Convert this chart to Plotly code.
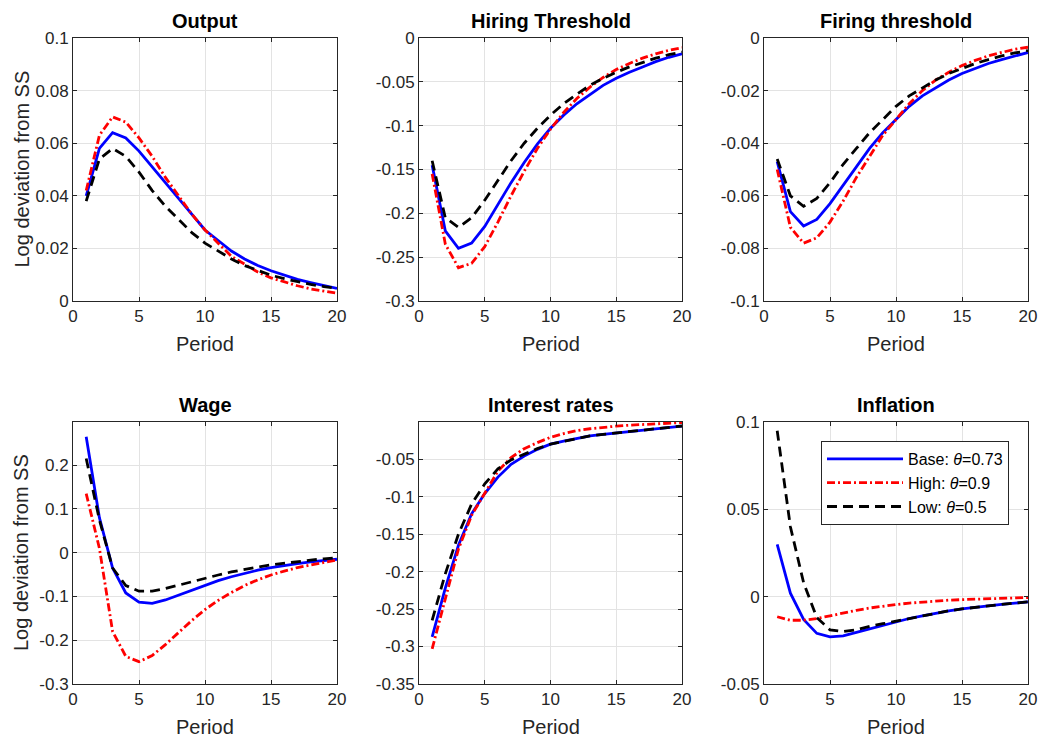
import plotly.graph_objects as go

periods = list(range(1, 21))

titles = ["Output", "Hiring Threshold", "Firing threshold", "Wage", "Interest rates", "Inflation"]
series_names = ["Base: <i>θ</i>=0.73", "High: <i>θ</i>=0.9", "Low: <i>θ</i>=0.5"]

# Output
output_base = [0.040, 0.058, 0.064, 0.062, 0.057, 0.051, 0.045, 0.039, 0.033, 0.027,
               0.023, 0.019, 0.016, 0.0135, 0.0115, 0.0097, 0.0082, 0.0070, 0.0059, 0.0048]
output_high = [0.042, 0.063, 0.070, 0.068, 0.062, 0.055, 0.047, 0.040, 0.033, 0.027,
               0.022, 0.017, 0.014, 0.011, 0.0088, 0.0072, 0.0058, 0.0046, 0.0037, 0.0030]
output_low = [0.038, 0.054, 0.058, 0.055, 0.049, 0.042, 0.036, 0.031, 0.026, 0.022,
              0.019, 0.016, 0.0135, 0.0115, 0.0098, 0.0085, 0.0073, 0.0063, 0.0055, 0.0048]

# Hiring threshold
hiring_base = [-0.145, -0.220, -0.240, -0.234, -0.215, -0.190, -0.165, -0.142, -0.121, -0.103,
               -0.088, -0.075, -0.064, -0.054, -0.046, -0.039, -0.033, -0.027, -0.022, -0.018]
hiring_high = [-0.155, -0.235, -0.262, -0.257, -0.238, -0.210, -0.180, -0.152, -0.126, -0.104,
               -0.085, -0.069, -0.056, -0.045, -0.036, -0.029, -0.023, -0.018, -0.014, -0.011]
hiring_low = [-0.140, -0.205, -0.216, -0.205, -0.185, -0.162, -0.140, -0.120, -0.103, -0.088,
              -0.075, -0.064, -0.054, -0.046, -0.039, -0.033, -0.028, -0.023, -0.019, -0.016]

# Firing threshold
firing_base = [-0.047, -0.066, -0.0715, -0.069, -0.063, -0.056, -0.049, -0.042, -0.036, -0.031,
               -0.026, -0.022, -0.019, -0.016, -0.0135, -0.0115, -0.0097, -0.0082, -0.0068, -0.0055]
firing_high = [-0.050, -0.072, -0.078, -0.076, -0.070, -0.062, -0.053, -0.045, -0.037, -0.031,
               -0.025, -0.020, -0.016, -0.013, -0.0105, -0.0085, -0.0068, -0.0055, -0.0043, -0.0035]
firing_low = [-0.046, -0.060, -0.064, -0.061, -0.055, -0.048, -0.042, -0.036, -0.031, -0.026,
              -0.022, -0.019, -0.016, -0.0135, -0.0115, -0.0097, -0.0082, -0.0068, -0.0057, -0.0048]

# Wage
wage_base = [0.265, 0.080, -0.035, -0.092, -0.113, -0.116, -0.108, -0.097, -0.085, -0.074,
             -0.064, -0.055, -0.047, -0.040, -0.034, -0.029, -0.025, -0.021, -0.018, -0.015]
wage_high = [0.135, 0.010, -0.180, -0.237, -0.249, -0.235, -0.210, -0.182, -0.155, -0.130,
             -0.109, -0.091, -0.075, -0.062, -0.051, -0.042, -0.034, -0.028, -0.022, -0.017]
wage_low = [0.215, 0.075, -0.035, -0.075, -0.088, -0.088, -0.082, -0.074, -0.066, -0.058,
            -0.051, -0.044, -0.038, -0.033, -0.028, -0.024, -0.020, -0.017, -0.014, -0.012]

# Interest rates
rate_base = [-0.287, -0.222, -0.165, -0.123, -0.096, -0.074, -0.057, -0.046, -0.037, -0.030,
             -0.026, -0.022, -0.019, -0.017, -0.015, -0.013, -0.011, -0.009, -0.0075, -0.006]
rate_high = [-0.303, -0.235, -0.170, -0.125, -0.095, -0.066, -0.048, -0.036, -0.028, -0.021,
             -0.016, -0.012, -0.0095, -0.0075, -0.006, -0.0048, -0.0038, -0.003, -0.002, -0.0012]
rate_low = [-0.265, -0.203, -0.150, -0.110, -0.083, -0.063, -0.051, -0.043, -0.036, -0.030,
            -0.026, -0.022, -0.019, -0.017, -0.015, -0.013, -0.011, -0.009, -0.0072, -0.0058]

# Inflation
infl_base = [0.030, 0.002, -0.013, -0.021, -0.023, -0.0225, -0.0205, -0.0185, -0.0163, -0.0143,
             -0.0125, -0.011, -0.0095, -0.0082, -0.007, -0.006, -0.0052, -0.0044, -0.0037, -0.003]
infl_high = [-0.0115, -0.0135, -0.0135, -0.0125, -0.011, -0.0093, -0.0078, -0.0065, -0.0054, -0.0045,
             -0.0037, -0.003, -0.0025, -0.002, -0.0017, -0.0014, -0.0011, -0.0009, -0.0007, -0.0005]
infl_low = [0.095, 0.040, 0.008, -0.012, -0.019, -0.020, -0.019, -0.017, -0.0155, -0.014,
            -0.0123, -0.0108, -0.0094, -0.0081, -0.007, -0.006, -0.0052, -0.0044, -0.0037, -0.003]

panels = [
    (output_base, output_high, output_low),
    (hiring_base, hiring_high, hiring_low),
    (firing_base, firing_high, firing_low),
    (wage_base, wage_high, wage_low),
    (rate_base, rate_high, rate_low),
    (infl_base, infl_high, infl_low),
]

y_ranges = [[0, 0.1], [-0.3, 0], [-0.1, 0], [-0.3, 0.2985], [-0.35, -0.0005], [-0.05, 0.1]]
y_ticks = [
    [0, 0.02, 0.04, 0.06, 0.08, 0.1],
    [-0.3, -0.25, -0.2, -0.15, -0.1, -0.05, 0],
    [-0.1, -0.08, -0.06, -0.04, -0.02, 0],
    [-0.3, -0.2, -0.1, 0, 0.1, 0.2],
    [-0.35, -0.3, -0.25, -0.2, -0.15, -0.1, -0.05],
    [-0.05, 0, 0.05, 0.1],
]
y_ticktext = [
    ["0", "0.02", "0.04", "0.06", "0.08", "0.1"],
    ["-0.3", "-0.25", "-0.2", "-0.15", "-0.1", "-0.05", "0"],
    ["-0.1", "-0.08", "-0.06", "-0.04", "-0.02", "0"],
    ["-0.3", "-0.2", "-0.1", "0", "0.1", "0.2"],
    ["-0.35", "-0.3", "-0.25", "-0.2", "-0.15", "-0.1", "-0.05"],
    ["-0.05", "0", "0.05", "0.1"],
]
x_ticks = [0, 5, 10, 15, 20]

W, H = 1041, 737
col_px = [(73, 337), (419, 682), (764, 1028)]
row_px = [(38, 301), (422, 684)]

colors = ["#0000ff", "#ff0000", "#000000"]
dashes = ["solid", "8px,3px,2px,3px", "10px,6px"]
FONT = "Liberation Sans, Arial, Helvetica, sans-serif"
AX = "#262626"

fig = go.Figure()
layout = dict(
    width=W, height=H,
    margin=dict(l=0, r=0, t=0, b=0, pad=0, autoexpand=False),
    paper_bgcolor="white", plot_bgcolor="white",
    font=dict(family=FONT, color=AX, size=17),
    showlegend=True,
)
annotations = []

for i, data in enumerate(panels):
    r, c = divmod(i, 3)
    idx = "" if i == 0 else str(i + 1)
    x0, x1 = col_px[c]
    yt, yb = row_px[r]
    xd = [x0 / W, x1 / W]
    yd = [1 - yb / H, 1 - yt / H]
    for k in range(3):
        fig.add_trace(go.Scatter(
            x=periods, y=data[k], mode="lines",
            name=series_names[k],
            line=dict(color=colors[k], width=2.8, dash=dashes[k]),
            xaxis="x" + idx, yaxis="y" + idx,
            showlegend=(i == 5),
        ))
    common = dict(showline=True, linecolor=AX, linewidth=1, mirror="ticks",
                  ticks="inside", ticklen=4, tickcolor=AX, tickwidth=1,
                  showgrid=True, gridcolor="#e3e3e3", gridwidth=1, zeroline=False,
                  automargin=False,
                  tickfont=dict(family=FONT, size=17, color=AX))
    layout["xaxis" + idx] = dict(domain=xd, range=[0, 20], tickvals=x_ticks,
                                 anchor="y" + idx, **common)
    layout["yaxis" + idx] = dict(domain=yd, range=y_ranges[i], tickvals=y_ticks[i],
                                 ticktext=y_ticktext[i], anchor="x" + idx, **common)
    xc = (x0 + x1) / 2 / W
    annotations.append(dict(text="<b>" + titles[i] + "</b>", x=xc, y=1 - (yt - 17) / H,
                            xref="paper", yref="paper", showarrow=False,
                            font=dict(family=FONT, size=20, color="black"),
                            xanchor="center", yanchor="middle"))
    annotations.append(dict(text="Period", x=xc, y=1 - (yb + 43) / H,
                            xref="paper", yref="paper", showarrow=False,
                            font=dict(family=FONT, size=20, color=AX),
                            xanchor="center", yanchor="middle"))
    if c == 0:
        annotations.append(dict(text="Log deviation from SS", x=21 / W, y=1 - (yt + yb) / 2 / H,
                                xref="paper", yref="paper", showarrow=False, textangle=-90,
                                font=dict(family=FONT, size=20, color=AX),
                                xanchor="center", yanchor="middle"))

layout["annotations"] = annotations
layout["legend"] = dict(x=821 / W, y=1 - 441 / H, xanchor="left", yanchor="top",
                        bgcolor="white", bordercolor="#262626", borderwidth=1,
                        font=dict(family=FONT, size=16, color="black"),
                        itemwidth=76, tracegroupgap=0)
fig.update_layout(**layout)
fig.write_html("out.html", config={"displayModeBar": False},
               post_script="document.body.style.margin='0';document.body.style.padding='0';")
